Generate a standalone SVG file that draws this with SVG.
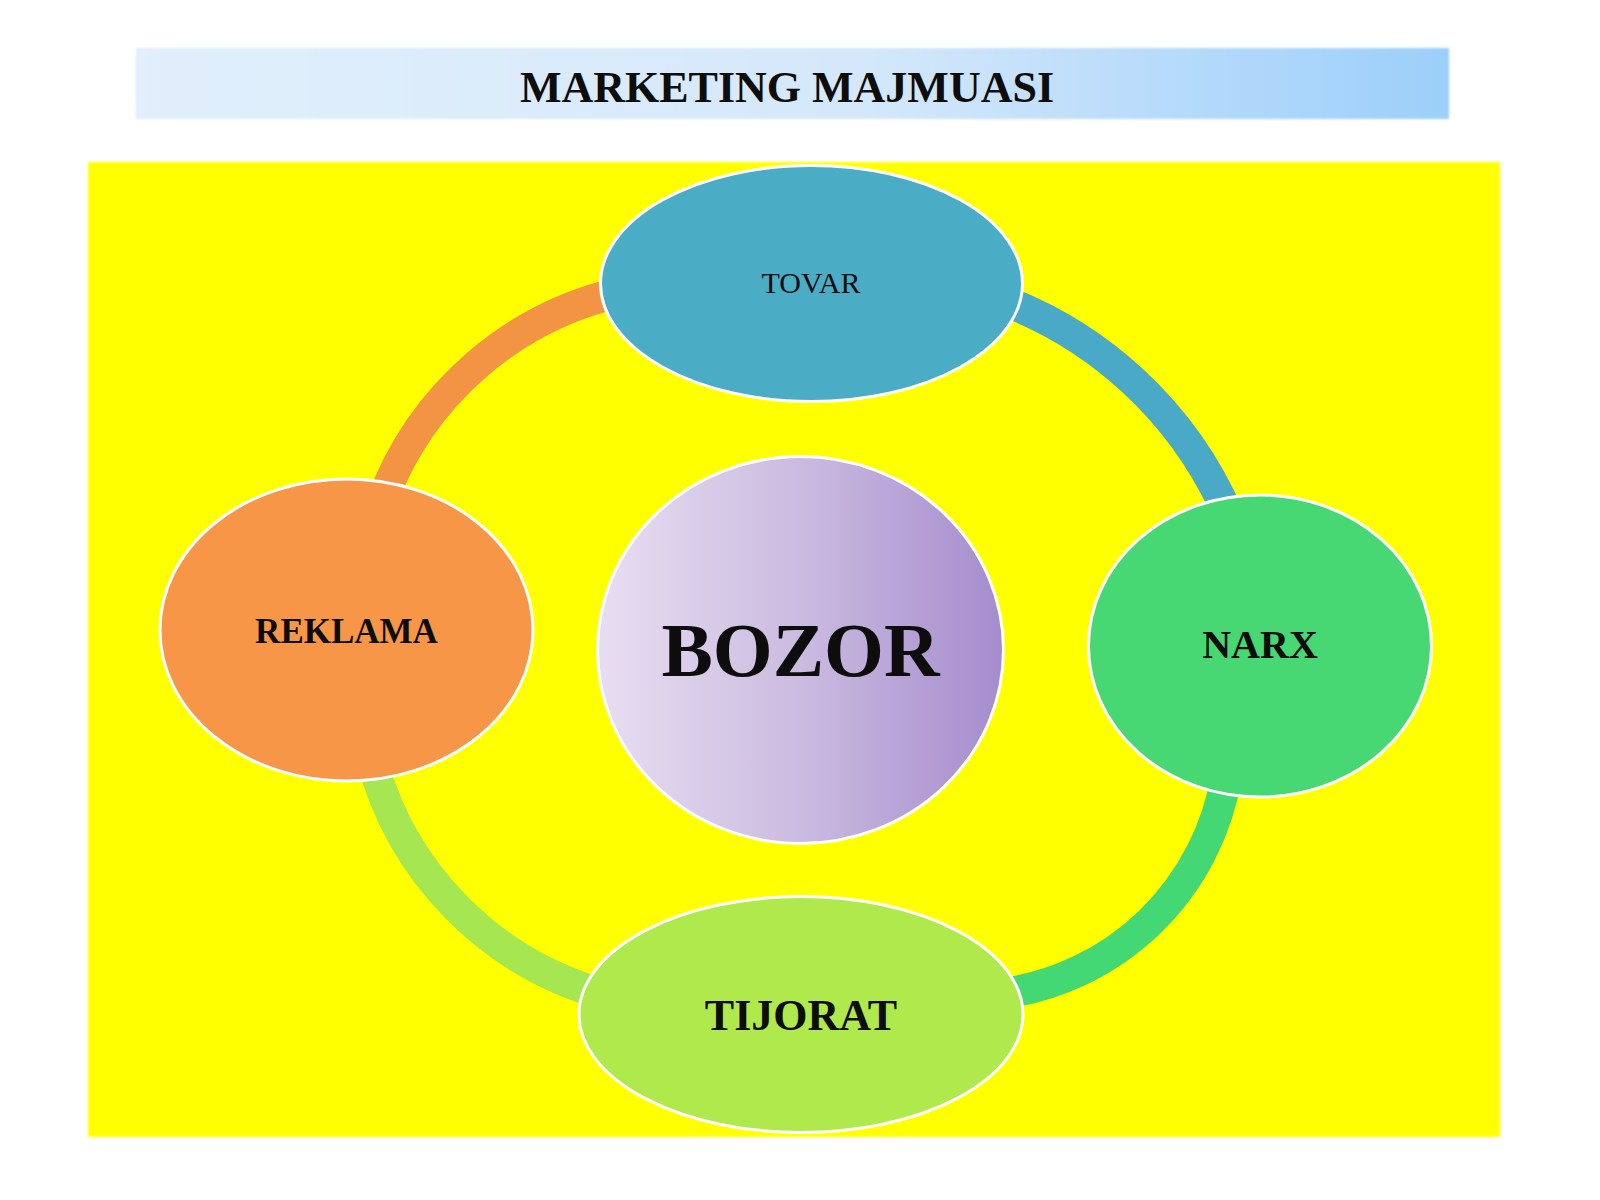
<svg xmlns="http://www.w3.org/2000/svg" width="1600" height="1200" viewBox="0 0 1600 1200">
  <defs>
    <linearGradient id="bannerGrad" x1="0" y1="0" x2="1" y2="0">
      <stop offset="0" stop-color="#e1effc"/>
      <stop offset="0.55" stop-color="#d5e8fb"/>
      <stop offset="1" stop-color="#9ccff9"/>
    </linearGradient>
    <linearGradient id="bozorGrad" x1="0" y1="0" x2="1" y2="0">
      <stop offset="0" stop-color="#e8def2"/>
      <stop offset="0.5" stop-color="#cbbbe0"/>
      <stop offset="1" stop-color="#a58ccd"/>
    </linearGradient>
    <filter id="soft" x="-2%" y="-2%" width="104%" height="104%">
      <feGaussianBlur stdDeviation="1"/>
    </filter>
  </defs>
  <style>
    .node { stroke: #ffffff; stroke-width: 3; }
    .arc { fill: none; stroke-width: 31; stroke-linecap: butt; }
    .lbl { font-family: "Liberation Serif", "Times New Roman", serif; text-anchor: middle; fill: #0d0d0d; }
    .b { font-weight: bold; }
  </style>

  <rect x="0" y="0" width="1600" height="1200" fill="#ffffff"/>

  <g id="title">
    <rect x="136" y="48" width="1313" height="71" fill="url(#bannerGrad)" filter="url(#soft)"/>
    <text class="lbl b" x="787" y="102" font-size="44" fill="#0d0d1a">MARKETING MAJMUASI</text>
  </g>

  <rect id="background" x="88" y="162" width="1412" height="975" fill="#ffff00" filter="url(#soft)"/>

  <g id="connectors">
    <path class="arc" stroke="#f39444" d="M 380.9 503.9 A 334 334 0 0 1 626.1 290.9"/>
    <path class="arc" stroke="#4aa9c7" d="M 990.6 295.9 A 401.3 401.3 0 0 1 1229.7 518.2"/>
    <path class="arc" stroke="#43d874" d="M 1226.7 774.5 A 263.5 263.5 0 0 1 1000.4 993.9"/>
    <path class="arc" stroke="#a6e650" d="M 370.7 755.3 A 333.1 333.1 0 0 0 605.7 994.9"/>
  </g>

  <g id="node-tovar">
    <ellipse class="node" cx="811.5" cy="283.5" rx="211" ry="118" fill="#4bacc6"/>
    <text class="lbl" x="811" y="293" font-size="30" fill="#0b1a30">TOVAR</text>
  </g>

  <g id="node-narx">
    <ellipse class="node" cx="1260" cy="646" rx="171.5" ry="151" fill="#47d873"/>
    <text class="lbl b" x="1260" y="658" font-size="40">NARX</text>
  </g>

  <g id="node-tijorat">
    <ellipse class="node" cx="801" cy="1014.5" rx="222" ry="118" fill="#b0e94c"/>
    <text class="lbl b" x="801" y="1030" font-size="44">TIJORAT</text>
  </g>

  <g id="node-reklama">
    <ellipse class="node" cx="346.5" cy="630" rx="186.5" ry="151" fill="#f79646"/>
    <text class="lbl b" x="346.5" y="643" font-size="35">REKLAMA</text>
  </g>

  <g id="node-bozor">
    <ellipse class="node" cx="800.5" cy="650" rx="203" ry="193.5" fill="url(#bozorGrad)"/>
    <text class="lbl b" x="800.5" y="676" font-size="77">BOZOR</text>
  </g>
</svg>
